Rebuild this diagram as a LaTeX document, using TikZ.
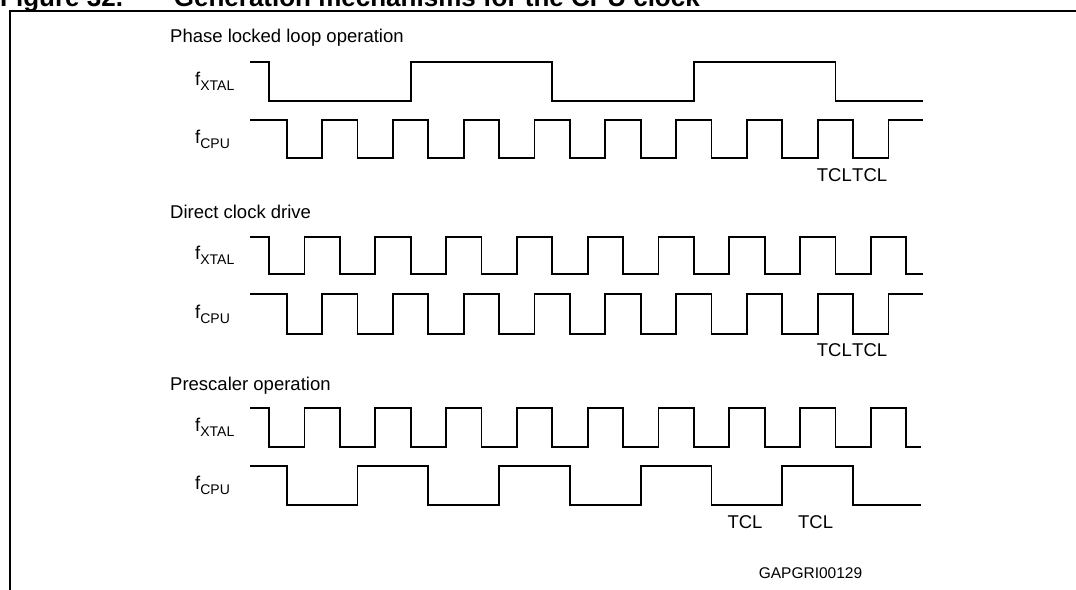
\documentclass[tikz,border=0pt]{standalone}
\usepackage{fontspec}
\setmainfont{Liberation Sans}
\usetikzlibrary{positioning}

% signal name with subscript
\newcommand{\sig}[1]{f\raisebox{-5pt}{\fontsize{14}{14}\selectfont #1}}
% clock trace: first edge, half period, last edge index, end x, high y, low y, end y
\newcommand{\clocktrace}[7]{%
  \draw[trace] (250,#5) \foreach \k in {0,...,#3}{
      -- ({#1+#2*\k},{ifthenelse(iseven(\k),#5,#6)}) -- ({#1+#2*\k},{ifthenelse(iseven(\k),#6,#5)})
    } -- (#4,#7);
}

\begin{document}
\begin{tikzpicture}[
    x=1pt, y=-1pt,
    trace/.style={line width=1.8pt, line join=miter},
    frame/.style={line width=2.2pt},
    heading/.style={anchor=base west, inner sep=0pt, font=\fontsize{18.5}{20}\selectfont},
    siglabel/.style={anchor=west, inner sep=0pt, font=\fontsize{18.5}{20}\selectfont},
    tcl/.style={inner sep=0pt, font=\fontsize{18.5}{20}\selectfont},
    figtitle/.style={inner sep=0pt, font=\fontsize{26}{28}\selectfont\bfseries}
]
\useasboundingbox (0,0) rectangle (1076,589);

% Figure title, cut by the page edge
\node[figtitle, anchor=base west] (fignum) at (0,6) {Figure 32.};
\node[figtitle, anchor=base east] (figtext) at (700,6) {Generation mechanisms for the CPU clock};
\draw[frame] (10,11) rectangle (1100,620);

% Phase locked loop operation
\node[heading] (pll) at (170,42) {Phase locked loop operation};
\node[siglabel] (pllxtal) at (195,81.5) {\sig{XTAL}};
\node[siglabel] (pllcpu) at (195,139) {\sig{CPU}};
\clocktrace{269}{141.6}{4}{923}{62.3}{100.7}{100.7}
\clocktrace{286.7}{35.4}{17}{923}{120}{158.3}{120}
\node[tcl, anchor=base east] (plltcla) at (852,181.7) {TCL};
\node[tcl, anchor=base west] (plltclb) at (plltcla.base east) {TCL};

% Direct clock drive
\node[heading] (direct) at (170,218.3) {Direct clock drive};
\node[siglabel] (dirxtal) at (195,255.2) {\sig{XTAL}};
\node[siglabel] (dircpu) at (195,314) {\sig{CPU}};
\clocktrace{269}{35.4}{18}{923}{236.7}{273.7}{273.7}
\clocktrace{286.7}{35.4}{17}{923}{294.3}{333.7}{294.3}
\node[tcl, anchor=base east] (dirtcla) at (852,356.7) {TCL};
\node[tcl, anchor=base west] (dirtclb) at (dirtcla.base east) {TCL};

% Prescaler operation
\node[heading] (presc) at (170,390.7) {Prescaler operation};
\node[siglabel] (prextal) at (195,427.2) {\sig{XTAL}};
\node[siglabel] (precpu) at (195,485.5) {\sig{CPU}};
\clocktrace{269}{35.4}{18}{921}{407.7}{446.7}{446.7}
\clocktrace{286.7}{70.8}{8}{921}{466}{505}{505}
\node[tcl, anchor=base] (pretcla) at (745,528.3) {TCL};
\node[tcl, anchor=base] (pretclb) at (815.6,528.3) {TCL};

\node[tcl, anchor=base, font=\fontsize{15.5}{17}\selectfont] (figid) at (810.5,578.3) {GAPGRI00129};

\end{tikzpicture}
\end{document}
